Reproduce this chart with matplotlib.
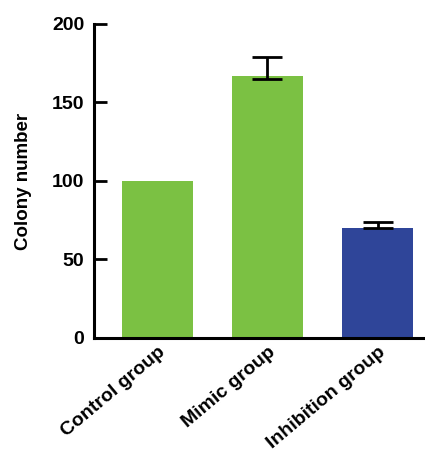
import matplotlib
matplotlib.use("Agg")
import matplotlib.pyplot as plt

plt.rcParams['font.family'] = ['Liberation Sans', 'DejaVu Sans']
plt.rcParams['font.weight'] = 'bold'

groups = ['Control group', 'Mimic group', 'Inhibition group']
colony = [100, 167, 70]
err_low = [0, 2, 0]
err_high = [0, 12, 4]
colors = ['#7bc143', '#7bc143', '#2f4599']

fig = plt.figure(figsize=(4.25, 4.61), dpi=100)
ax = fig.add_axes([0.221, 0.267, 0.774, 0.681])

x = range(len(groups))
ax.bar(x, colony, width=0.645, color=colors, edgecolor='none')
for i in x:
    if err_high[i] > 0:
        ax.errorbar(i, colony[i], yerr=[[err_low[i]], [err_high[i]]],
                    fmt='none', ecolor='black', elinewidth=2, capsize=10.5,
                    capthick=2)

ax.set_xlim(-0.575, 2.41)
ax.set_ylim(0, 200)
ax.set_yticks([0, 50, 100, 150, 200])
ax.set_xticks(list(x))
ax.set_xticklabels(groups, rotation=40, ha='right', rotation_mode='anchor',
                   fontsize=14, fontweight='bold')
ax.tick_params(axis='y', direction='in', length=9, width=2, labelsize=14, pad=7)
ax.tick_params(axis='x', length=0, pad=4)
for lab in ax.get_yticklabels():
    lab.set_fontweight('bold')
ax.set_ylabel('Colony number', fontsize=13.5, fontweight='bold', labelpad=14)

ax.spines['top'].set_visible(False)
ax.spines['right'].set_visible(False)
ax.spines['left'].set_linewidth(2.2)
ax.spines['bottom'].set_linewidth(2.2)

fig.savefig('out.png', dpi=100)
